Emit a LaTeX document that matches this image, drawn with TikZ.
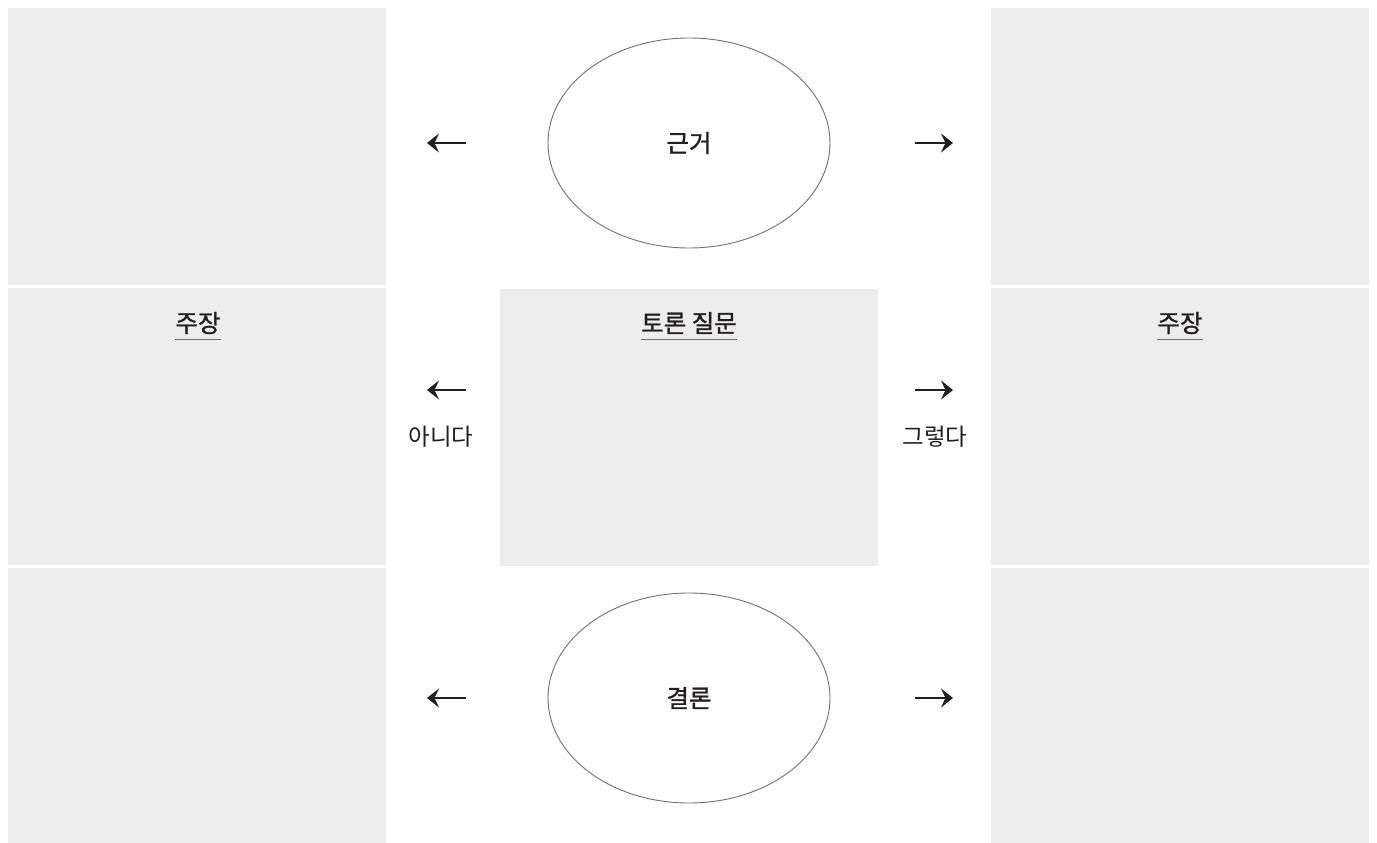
\documentclass[tikz,border=0pt]{standalone}
\usepackage{fontspec}
\setmainfont{Noto Sans CJK KR}
\newfontfamily\headfont[FakeBold=1.3]{Noto Sans CJK KR}
\usepackage{xcolor}
\usetikzlibrary{arrows.meta}
\usetikzlibrary{shapes.geometric}
\definecolor{panelgray}{HTML}{EDEDED}
\definecolor{ink}{HTML}{231F20}
\definecolor{rim}{HTML}{707070}

\begin{document}
\begin{tikzpicture}[x=1pt,y=-1pt,
    panel/.style={fill=panelgray,draw=none,minimum width=378pt,minimum height=277pt,anchor=north west,inner sep=0pt},
    oval/.style={ellipse,draw=rim,line width=0.9pt,minimum width=282pt,minimum height=210pt,text=ink,font=\headfont\fontsize{24.5}{28}\selectfont},
    head/.style={text=ink,inner sep=0pt,font=\headfont\fontsize{24.5}{28}\selectfont},
    word/.style={text=ink,inner sep=0pt,font=\fontsize{23.5}{28}\selectfont},
    uline/.style={draw=rim,line width=1.2pt},
    arr/.style={draw=ink,line width=2.6pt,-{Stealth[length=12pt,width=19pt,inset=4.5pt]}}]
    \useasboundingbox (0,0) rectangle (1377,843);
    \fill[white] (0,0) rectangle (1377,843);
    % side panels
    \node[panel] (leftTop) at (8,8) {};
    \node[panel] (leftMid) at (8,288) {};
    \node[panel] (leftBot) at (8,568) {};
    \node[panel] (rightTop) at (991,8) {};
    \node[panel] (rightMid) at (991,288) {};
    \node[panel] (rightBot) at (991,568) {};
    \node[panel] (question) at (500,289) {};
    %
    \node[oval] (ground) at (689,143) {근거};
    \node[oval] (conclusion) at (689,698) {결론};
    %
    \node[head] (claimL) at (198,323) {주장};
    \node[head] (claimR) at (1180,323) {주장};
    \node[head] (topic) at (689,323) {토론 질문};
    \foreach \n in {claimL,claimR,topic}
      \draw[uline] ([yshift=-5pt]\n.south west) -- ([yshift=-5pt]\n.south east);
    \node[word] (no) at (441,437) {아니다};
    \node[word] (yes) at (935,437) {그렇다};
    %
    \foreach \y/\k in {143/a,390/b,698/c}{
      \coordinate (l\k1) at (466,\y);
      \coordinate (l\k2) at (427,\y);
      \coordinate (r\k1) at (915,\y);
      \coordinate (r\k2) at (953,\y);
      \draw[arr] (l\k1) -- (l\k2);
      \draw[arr] (r\k1) -- (r\k2);
    }
\end{tikzpicture}
\end{document}
